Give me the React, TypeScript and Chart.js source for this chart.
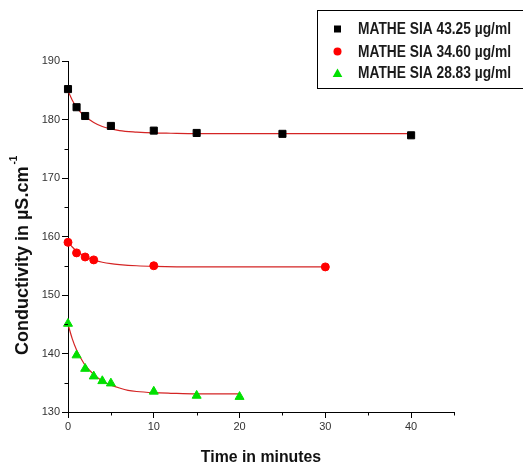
import React, { useEffect, useRef } from 'react';
import { Chart, registerables } from 'chart.js';

Chart.register(...registerables);

// Measured samples
const times43 = [0, 1, 2, 5, 10, 15, 25, 40];
const values43 = [185.2, 182.1, 180.6, 178.9, 178.1, 177.7, 177.55, 177.3];
const times34 = [0, 1, 2, 3, 10, 30];
const values34 = [159.0, 157.2, 156.5, 156.0, 155.0, 154.8];
const times28 = [0, 1, 2, 3, 4, 5, 10, 15, 20];
const values28 = [145.1, 139.7, 137.4, 136.1, 135.3, 134.9, 133.5, 132.8, 132.6];

// Fitted curves
const fitTimes43 = [0, 0.5, 1, 1.5, 2, 3, 4, 5, 6, 8, 10, 12, 15, 20, 30, 40];
const fitValues43 = [184.9, 183.3, 182.1, 181.2, 180.5, 179.5, 178.8, 178.4, 178.1, 177.85, 177.7, 177.65, 177.6, 177.6, 177.6, 177.6];
const fitTimes34 = [0, 0.5, 1, 1.5, 2, 3, 4, 5, 6, 8, 10, 15, 20, 30];
const fitValues34 = [159.0, 158.2, 157.5, 157.0, 156.6, 156.0, 155.6, 155.35, 155.2, 155.0, 154.9, 154.8, 154.8, 154.8];
const fitTimes28 = [0, 0.5, 1, 1.5, 2, 3, 4, 5, 6, 7, 8, 10, 12, 15, 20];
const fitValues28 = [145.0, 142.5, 140.6, 139.2, 138.0, 136.4, 135.3, 134.6, 134.1, 133.7, 133.5, 133.3, 133.2, 133.1, 133.1];

// Axis ticks
const xMajorTicks = [0, 10, 20, 30, 40];
const xMinorTicks = [5, 15, 25, 35, 45];
const yMajorTicks = [130, 140, 150, 160, 170, 180, 190];
const yMinorTicks = [135, 145, 155, 165, 175, 185];

const seriesLabels = ['MATHE SIA 43.25 µg/ml', 'MATHE SIA 34.60 µg/ml', 'MATHE SIA 28.83 µg/ml'];
const seriesColors = ['#000000', '#ff0000', '#00e000'];
const seriesShapes = ['rect', 'circle', 'triangle'];
const xTitle = 'Time in minutes';
const yTitle = 'Conductivity in µS.cm';
const yTitleSup = '-1';
const fitColor = '#d42424';

const FONT = '"Liberation Sans", Arial, sans-serif';

const toPoints = (xs: number[], ys: number[]) => xs.map((x, i) => ({ x, y: ys[i] }));

const decorPlugin = {
  id: 'decor',
  afterDraw(chart: any) {
    const ctx: CanvasRenderingContext2D = chart.ctx;
    const area = chart.chartArea;
    const xs = chart.scales.x;
    const ys = chart.scales.y;
    ctx.save();

    // Minor ticks
    ctx.strokeStyle = '#000';
    ctx.lineWidth = 1;
    ctx.beginPath();
    xMinorTicks.forEach((v) => {
      const px = Math.round(xs.getPixelForValue(v)) + 0.5;
      ctx.moveTo(px, area.bottom);
      ctx.lineTo(px, area.bottom + 3.5);
    });
    yMinorTicks.forEach((v) => {
      const py = Math.round(ys.getPixelForValue(v)) + 0.5;
      ctx.moveTo(area.left, py);
      ctx.lineTo(area.left - 3.5, py);
    });
    ctx.stroke();

    ctx.fillStyle = '#111';

    // X title
    ctx.font = `bold 16px ${FONT}`;
    ctx.textAlign = 'center';
    ctx.textBaseline = 'middle';
    ctx.save();
    ctx.translate((area.left + area.right) / 2, 457);
    ctx.scale(0.99, 1.05);
    ctx.fillText(xTitle, 0, 0);
    ctx.restore();

    // Y title
    ctx.save();
    ctx.translate(23, 355);
    ctx.rotate(-Math.PI / 2);
    ctx.font = `bold 18px ${FONT}`;
    ctx.textAlign = 'left';
    ctx.textBaseline = 'middle';
    ctx.fillText(yTitle, 0, 0);
    const w = ctx.measureText(yTitle).width;
    ctx.font = `bold 10px ${FONT}`;
    ctx.fillText(yTitleSup, w + 2, -9);
    ctx.restore();

    // Legend box
    ctx.strokeStyle = '#000';
    ctx.lineWidth = 1;
    ctx.strokeRect(317.5, 10.5, 240, 78);
    const rows = [29, 51.5, 73];
    rows.forEach((ry, i) => {
      const mx = 337.5;
      ctx.fillStyle = seriesColors[i];
      ctx.beginPath();
      if (seriesShapes[i] === 'rect') {
        ctx.rect(mx - 3.5, ry - 3.5, 7, 7);
      } else if (seriesShapes[i] === 'circle') {
        ctx.arc(mx, ry, 4, 0, Math.PI * 2);
      } else {
        ctx.moveTo(mx, ry - 4.5);
        ctx.lineTo(mx + 4.8, ry + 4);
        ctx.lineTo(mx - 4.8, ry + 4);
        ctx.closePath();
      }
      ctx.fill();
      ctx.fillStyle = '#1a1a1a';
      ctx.font = `bold 16px ${FONT}`;
      ctx.textAlign = 'left';
      ctx.textBaseline = 'middle';
      ctx.save();
      ctx.translate(358, ry + 1);
      ctx.scale(0.86, 1.02);
      ctx.fillText(seriesLabels[i], 0, 0);
      ctx.restore();
    });
    ctx.restore();
  },
};

export default function App() {
  const canvasRef = useRef<HTMLCanvasElement | null>(null);

  useEffect(() => {
    if (!canvasRef.current) return;
    const scatter = (xs: number[], ys: number[], i: number) => ({
      label: seriesLabels[i],
      data: toPoints(xs, ys),
      showLine: false,
      pointStyle: seriesShapes[i],
      pointRadius: i === 0 ? 5 : i === 1 ? 4 : 5.2,
      pointBackgroundColor: seriesColors[i],
      pointBorderColor: seriesColors[i],
      pointBorderWidth: 1,
      clip: false,
      order: 1,
    });
    const fit = (xs: number[], ys: number[]) => ({
      label: 'fit',
      data: toPoints(xs, ys),
      showLine: true,
      pointRadius: 0,
      borderColor: fitColor,
      borderWidth: 1.2,
      cubicInterpolationMode: 'monotone',
      fill: false,
      order: 2,
    });
    const tickFont = { size: 11, family: FONT };
    const gridOpts = { display: true, drawOnChartArea: false, drawTicks: true, tickLength: 6, color: '#000', tickColor: '#000' };
    const chart = new Chart(canvasRef.current, {
      type: 'scatter',
      data: {
        datasets: [
          scatter(times43, values43, 0),
          scatter(times34, values34, 1),
          scatter(times28, values28, 2),
          fit(fitTimes43, fitValues43),
          fit(fitTimes34, fitValues34),
          fit(fitTimes28, fitValues28),
        ] as any,
      },
      options: {
        animation: false,
        responsive: false,
        maintainAspectRatio: false,
        layout: { padding: { top: 61, right: 69, left: 0, bottom: 0 } },
        plugins: { legend: { display: false }, tooltip: { enabled: false } },
        scales: {
          x: {
            type: 'linear',
            min: 0,
            max: 45,
            afterFit: (s: any) => { s.height = 54; },
            afterBuildTicks: (s: any) => { s.ticks = xMajorTicks.map((value) => ({ value })); },
            grid: gridOpts,
            border: { display: true, color: '#000', width: 1 },
            ticks: {
              autoSkip: false,
              maxRotation: 0,
              padding: 2,
              color: '#333',
              font: tickFont,
            },
          },
          y: {
            type: 'linear',
            min: 130,
            max: 190,
            afterFit: (s: any) => { s.width = 68; },
            afterBuildTicks: (s: any) => { s.ticks = yMajorTicks.map((value) => ({ value })); },
            grid: gridOpts,
            border: { display: true, color: '#000', width: 1 },
            ticks: {
              autoSkip: false,
              padding: 2,
              color: '#333',
              font: tickFont,
            },
          },
        },
      } as any,
      plugins: [decorPlugin],
    });
    return () => chart.destroy();
  }, []);

  return (
    <div style={{ position: 'fixed', left: 0, top: 0, width: 523, height: 466, background: '#fff' }}>
      <canvas ref={canvasRef} width={523} height={466} style={{ display: 'block' }} />
    </div>
  );
}
